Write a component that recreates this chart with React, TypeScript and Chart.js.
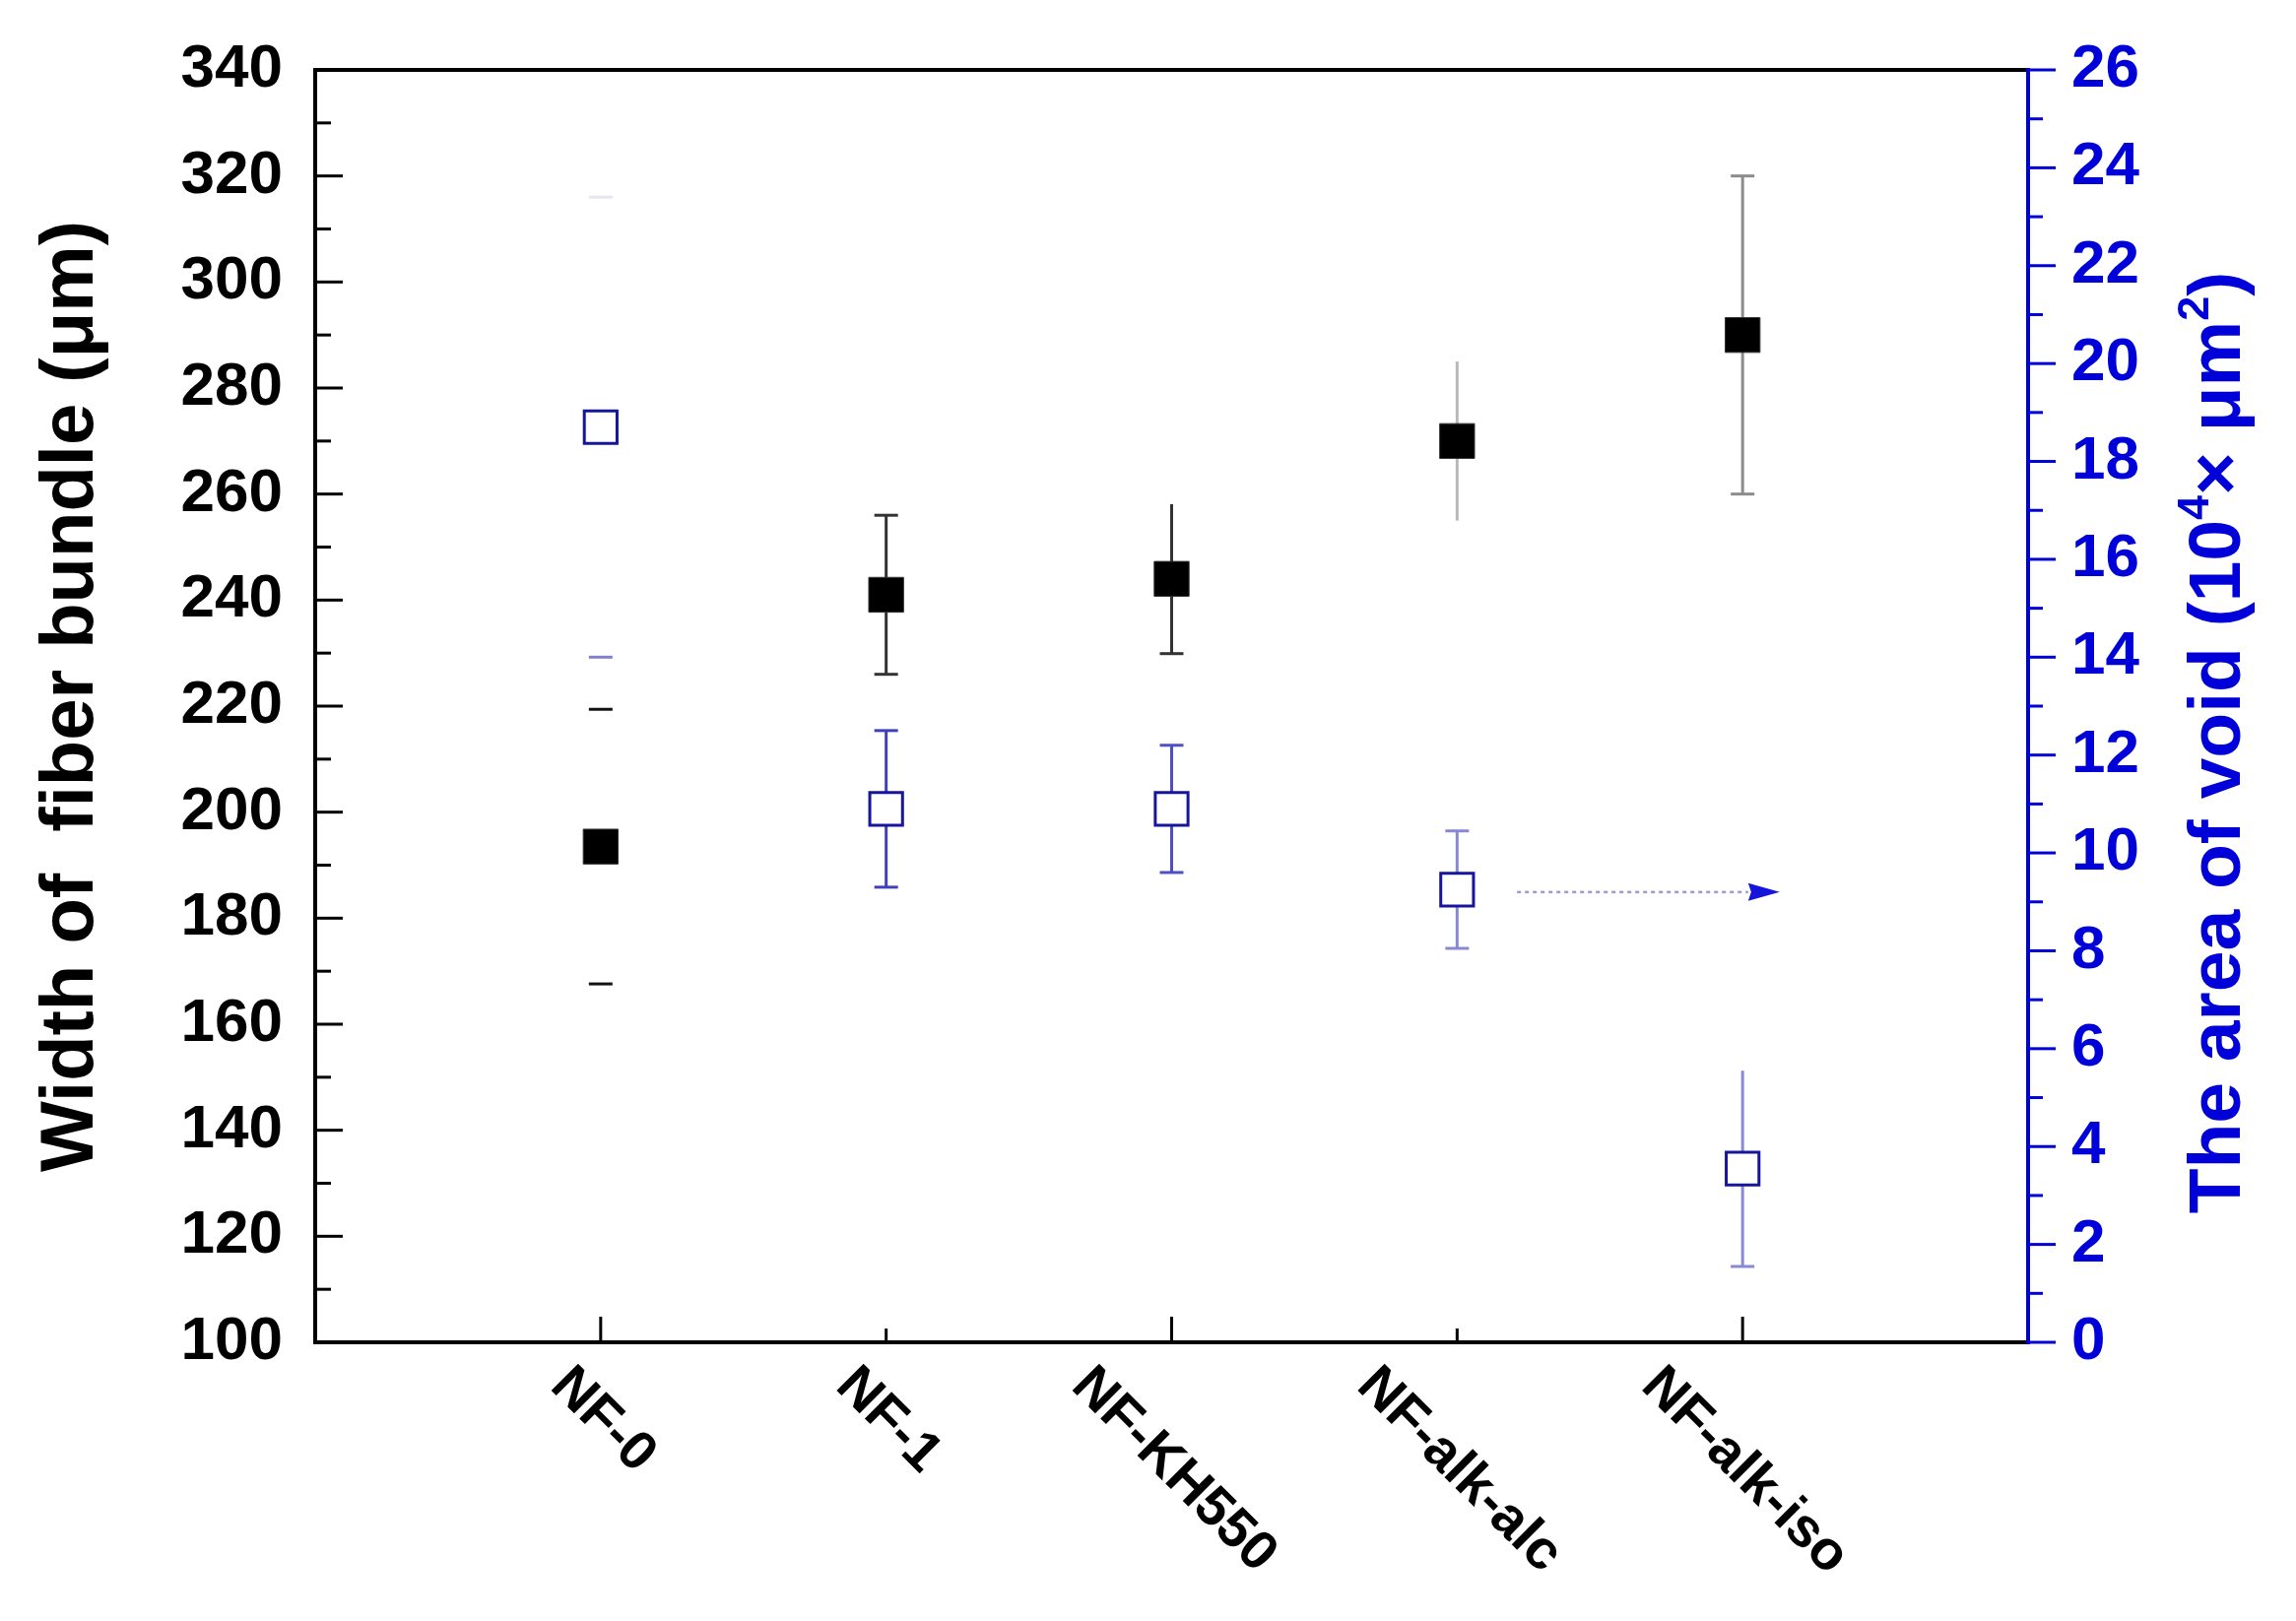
import React, { useEffect, useRef } from 'react';
import { Chart, registerables } from 'chart.js';

Chart.register(...registerables);

// ---------------- data ----------------
const categories = ['NF-0', 'NF-1', 'NF-KH550', 'NF-alk-alc', 'NF-alk-iso'];
const bundleWidth = [193.5, 241.0, 244.0, 270.0, 290.0];
const bundleWidthErr = [25.9, 15.0, 14.1, 15.0, 30.0];
const voidArea = [18.7, 10.9, 10.9, 9.25, 3.55];
const voidAreaErr = [4.7, 1.6, 1.3, 1.2, 2.0];
const leftRange = [100, 340];
const leftStep = 20;
const rightRange = [0, 26];
const rightStep = 2;
const xRange = [-1, 5];
const arrowX = [3.21, 4.13];
const arrowY = 9.2;

const leftTitle = 'Width of  fiber bundle (\u03bcm)';
const rightTitleParts: { t: string; sup: boolean }[] = [
  { t: 'The area of void (10', sup: false },
  { t: '4', sup: true },
  { t: '\u00d7 \u03bcm', sup: false },
  { t: '2', sup: true },
  { t: ')', sup: false },
];

// ---------------- styles ----------------
const BLUE = '#0000d8';
const FONT = '"Liberation Sans", Arial, Helvetica, sans-serif';

type ErrStyle = { color: string; topColor?: string; line: boolean; top: boolean; bottom: boolean };
const widthErrStyle: ErrStyle[] = [
  { color: '#111111', line: false, top: true, bottom: true },
  { color: '#333333', line: true, top: true, bottom: true },
  { color: '#333333', line: true, top: false, bottom: true },
  { color: '#b8b8b8', line: true, top: false, bottom: false },
  { color: '#8c8c8c', line: true, top: true, bottom: true },
];
const voidErrStyle: ErrStyle[] = [
  { color: '#8080d0', topColor: '#e6e6ee', line: false, top: true, bottom: true },
  { color: '#4040bb', line: true, top: true, bottom: true },
  { color: '#5050c2', line: true, top: true, bottom: true },
  { color: '#8888d6', line: true, top: true, bottom: true },
  { color: '#8888d6', line: true, top: false, bottom: true },
];

function drawErr(ctx: CanvasRenderingContext2D, x: number, yTop: number, yBot: number, s: ErrStyle, half: number) {
  ctx.lineWidth = 3;
  ctx.strokeStyle = s.color;
  if (s.line) {
    ctx.beginPath();
    ctx.moveTo(x, yTop);
    ctx.lineTo(x, yBot);
    ctx.stroke();
  }
  if (s.top) {
    ctx.strokeStyle = s.topColor || s.color;
    ctx.beginPath();
    ctx.moveTo(x - half, yTop);
    ctx.lineTo(x + half, yTop);
    ctx.stroke();
  }
  if (s.bottom) {
    ctx.strokeStyle = s.color;
    ctx.beginPath();
    ctx.moveTo(x - half, yBot);
    ctx.lineTo(x + half, yBot);
    ctx.stroke();
  }
}

const customPlugin = {
  id: 'customDraw',
  beforeDatasetsDraw(chart: any) {
    const ctx: CanvasRenderingContext2D = chart.ctx;
    const xs = chart.scales.x;
    const yl = chart.scales.y;
    const yr = chart.scales.y1;
    ctx.save();
    categories.forEach((_, i) => {
      const px = xs.getPixelForValue(i);
      drawErr(
        ctx,
        px,
        yl.getPixelForValue(bundleWidth[i] + bundleWidthErr[i]),
        yl.getPixelForValue(bundleWidth[i] - bundleWidthErr[i]),
        widthErrStyle[i],
        12
      );
      drawErr(
        ctx,
        px,
        yr.getPixelForValue(voidArea[i] + voidAreaErr[i]),
        yr.getPixelForValue(voidArea[i] - voidAreaErr[i]),
        voidErrStyle[i],
        12
      );
    });
    // arrow
    const ay = yr.getPixelForValue(arrowY);
    const ax0 = xs.getPixelForValue(arrowX[0]);
    const ax1 = xs.getPixelForValue(arrowX[1]);
    const headLen = 32;
    ctx.strokeStyle = '#9a9ad6';
    ctx.lineWidth = 2.5;
    ctx.setLineDash([4, 4]);
    ctx.beginPath();
    ctx.moveTo(ax0, ay);
    ctx.lineTo(ax1 - headLen, ay);
    ctx.stroke();
    ctx.setLineDash([]);
    ctx.fillStyle = '#1414dc';
    ctx.beginPath();
    ctx.moveTo(ax1, ay);
    ctx.lineTo(ax1 - headLen, ay - 9);
    ctx.lineTo(ax1 - headLen + 3, ay);
    ctx.lineTo(ax1 - headLen, ay + 9);
    ctx.closePath();
    ctx.fill();
    ctx.restore();
  },
  afterDraw(chart: any) {
    const ctx: CanvasRenderingContext2D = chart.ctx;
    const { left, right, top, bottom } = chart.chartArea;
    const xs = chart.scales.x;
    const yl = chart.scales.y;
    const yr = chart.scales.y1;
    ctx.save();
    ctx.lineCap = 'butt';

    // ticks: left (inward)
    ctx.strokeStyle = '#000';
    ctx.lineWidth = 3;
    for (let v = leftRange[0]; v <= leftRange[1]; v += leftStep / 2) {
      const major = (v - leftRange[0]) % leftStep === 0;
      const py = yl.getPixelForValue(v);
      ctx.beginPath();
      ctx.moveTo(left, py);
      ctx.lineTo(left + (major ? 28 : 16), py);
      ctx.stroke();
    }
    // ticks: bottom (inward)
    for (let i = 0; i < categories.length; i++) {
      const px = xs.getPixelForValue(i);
      const major = i % 2 === 0;
      ctx.beginPath();
      ctx.moveTo(px, bottom);
      ctx.lineTo(px, bottom - (major ? 26 : 14));
      ctx.stroke();
    }
    // ticks: right (outward)
    ctx.strokeStyle = BLUE;
    for (let v = rightRange[0]; v <= rightRange[1]; v += rightStep / 2) {
      const major = (v - rightRange[0]) % rightStep === 0;
      const py = yr.getPixelForValue(v);
      ctx.beginPath();
      ctx.moveTo(right, py);
      ctx.lineTo(right + (major ? 28 : 15), py);
      ctx.stroke();
    }

    // frame
    ctx.lineWidth = 4;
    ctx.strokeStyle = '#000';
    ctx.beginPath();
    ctx.moveTo(right, top);
    ctx.lineTo(left, top);
    ctx.lineTo(left, bottom);
    ctx.lineTo(right, bottom);
    ctx.stroke();
    ctx.strokeStyle = BLUE;
    ctx.beginPath();
    ctx.moveTo(right, top - 2);
    ctx.lineTo(right, bottom + 2);
    ctx.stroke();

    // x labels, rotated
    const xFont = 56;
    ctx.font = `bold ${xFont}px ${FONT}`;
    ctx.fillStyle = '#000';
    ctx.textAlign = 'center';
    ctx.textBaseline = 'middle';
    const ang = Math.PI / 4;
    categories.forEach((lab, i) => {
      const px = xs.getPixelForValue(i);
      const w = ctx.measureText(lab).width;
      const h = xFont * 0.72;
      const cy = bottom + 21 + (Math.sin(ang) * w + Math.cos(ang) * h) / 2;
      ctx.save();
      ctx.translate(px + 2, cy);
      ctx.rotate(ang);
      ctx.fillText(lab, 0, 0);
      ctx.restore();
    });

    // left title
    const lSize = 76;
    ctx.font = `bold ${lSize}px ${FONT}`;
    ctx.fillStyle = '#000';
    ctx.textAlign = 'center';
    ctx.textBaseline = 'alphabetic';
    ctx.save();
    ctx.translate(67 + 0.358 * lSize, (top + bottom) / 2 - 10);
    ctx.rotate(-Math.PI / 2);
    ctx.fillText(leftTitle, 0, 0);
    ctx.restore();

    // right title with superscripts
    const rSize = 75;
    const supSize = Math.round(rSize * 0.6);
    const widths = rightTitleParts.map((p) => {
      ctx.font = `bold ${p.sup ? supSize : rSize}px ${FONT}`;
      return ctx.measureText(p.t).width;
    });
    const total = widths.reduce((a, b) => a + b, 0);
    ctx.save();
    ctx.translate(2247 + 0.358 * rSize, 754);
    ctx.rotate(-Math.PI / 2);
    ctx.fillStyle = BLUE;
    ctx.textAlign = 'left';
    let cx = -total / 2;
    rightTitleParts.forEach((p, i) => {
      ctx.font = `bold ${p.sup ? supSize : rSize}px ${FONT}`;
      ctx.fillText(p.t, cx, p.sup ? -rSize * 0.42 : 0);
      cx += widths[i];
    });
    ctx.restore();

    ctx.restore();
  },
};

export default function App() {
  const canvasRef = useRef<HTMLCanvasElement | null>(null);

  useEffect(() => {
    document.body.style.margin = '0';
    const canvas = canvasRef.current;
    if (!canvas) return;
    const chart = new Chart(canvas, {
      type: 'scatter',
      data: {
        datasets: [
          {
            label: 'Width of fiber bundle',
            data: categories.map((_, i) => ({ x: i, y: bundleWidth[i] })),
            xAxisID: 'x',
            yAxisID: 'y',
            showLine: false,
            pointStyle: 'rect',
            pointRadius: 25,
            pointHoverRadius: 25,
            backgroundColor: '#000',
            borderColor: '#333',
            borderWidth: 1,
          },
          {
            label: 'The area of void',
            data: categories.map((_, i) => ({ x: i, y: voidArea[i] })),
            xAxisID: 'x',
            yAxisID: 'y1',
            showLine: false,
            pointStyle: 'rect',
            pointRadius: 23.5,
            pointHoverRadius: 23.5,
            backgroundColor: '#fff',
            borderColor: '#16169a',
            borderWidth: 3,
          },
        ],
      },
      options: {
        responsive: false,
        animation: false,
        devicePixelRatio: 1,
        events: [],
        layout: { padding: { top: 71, left: 0, right: 0, bottom: 0 } },
        plugins: {
          legend: { display: false },
          tooltip: { enabled: false },
          title: { display: false },
        },
        scales: {
          x: {
            type: 'linear',
            min: xRange[0],
            max: xRange[1],
            ticks: { display: false },
            grid: { display: false, drawTicks: false },
            border: { display: false },
            afterFit: (s: any) => {
              s.height = 283;
              s.paddingLeft = 0;
              s.paddingRight = 0;
            },
          },
          y: {
            type: 'linear',
            position: 'left',
            min: leftRange[0],
            max: leftRange[1],
            ticks: {
              stepSize: leftStep,
              color: '#000',
              padding: 33,
              font: { family: FONT, size: 62, weight: 'bold' },
            },
            grid: { display: false, drawTicks: false },
            border: { display: false },
            afterFit: (s: any) => {
              s.width = 320;
              s.paddingTop = 0;
              s.paddingBottom = 0;
            },
          },
          y1: {
            type: 'linear',
            position: 'right',
            min: rightRange[0],
            max: rightRange[1],
            ticks: {
              stepSize: rightStep,
              color: BLUE,
              padding: 44,
              font: { family: FONT, size: 62, weight: 'bold' },
            },
            grid: { display: false, drawTicks: false },
            border: { display: false },
            afterFit: (s: any) => {
              s.width = 272;
              s.paddingTop = 0;
              s.paddingBottom = 0;
            },
          },
        },
      } as any,
      plugins: [customPlugin as any],
    });
    return () => chart.destroy();
  }, []);

  return (
    <div style={{ width: 2331, height: 1646, background: '#fff' }}>
      <canvas ref={canvasRef} width={2331} height={1646} style={{ display: 'block', width: 2331, height: 1646 }} />
    </div>
  );
}
